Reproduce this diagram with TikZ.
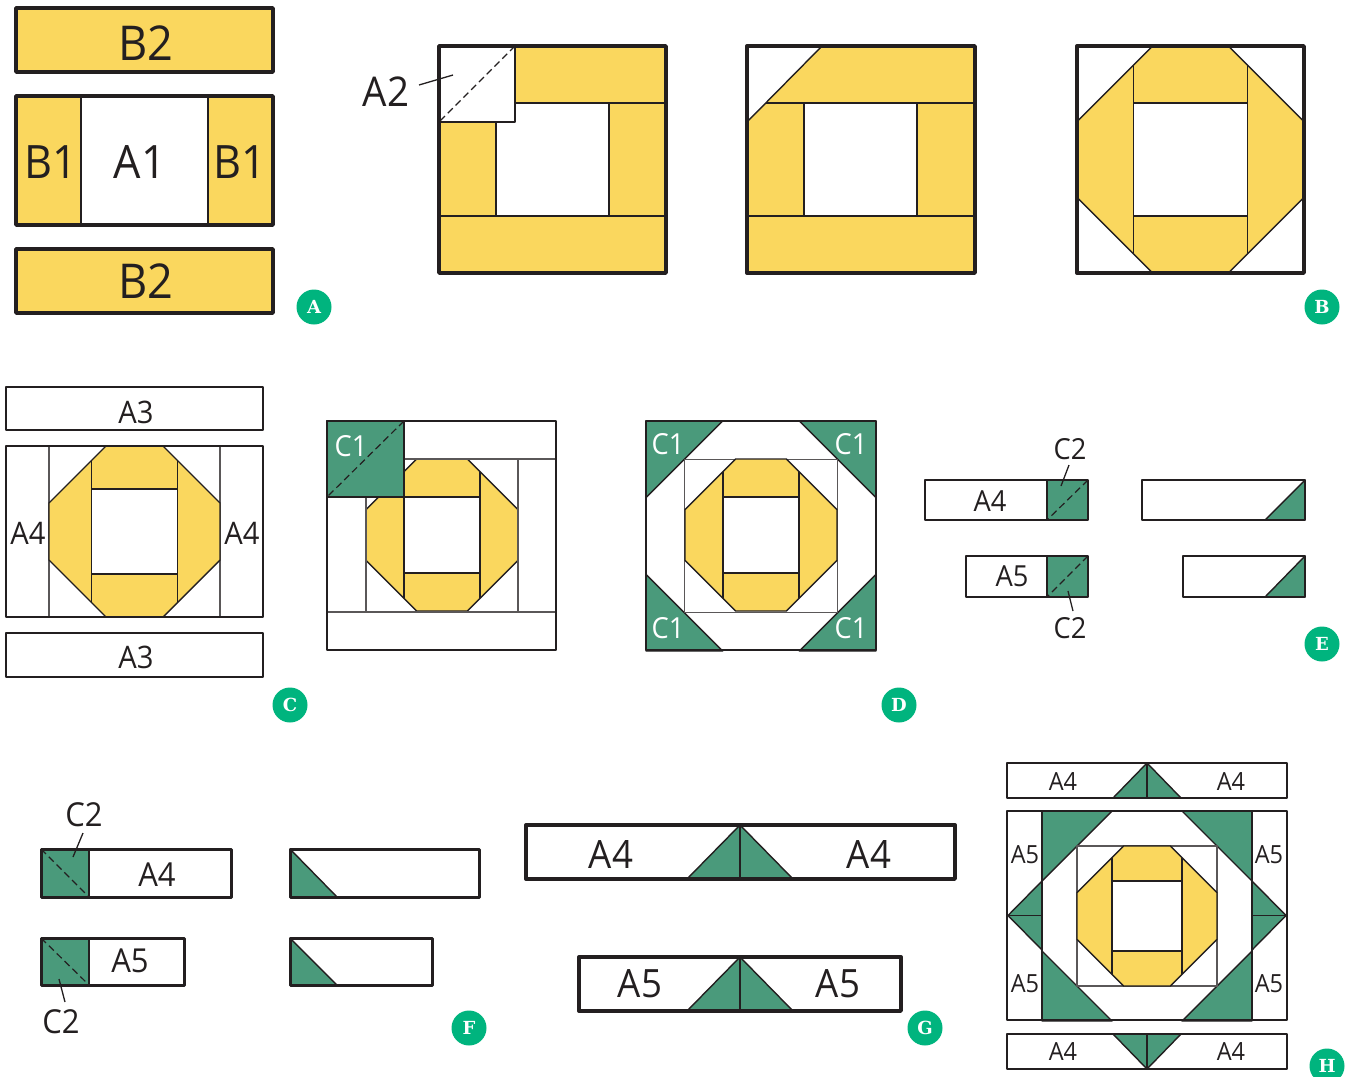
\documentclass[tikz,border=0pt]{standalone}
\usepackage{fontspec}
\setmainfont[FakeStretch=0.94]{Open Sans}
\newfontfamily\badgefont{DejaVu Serif}
\definecolor{straw}{RGB}{250,215,94}
\definecolor{pine}{RGB}{74,154,123}
\definecolor{mint}{RGB}{0,180,126}
\definecolor{ink}{RGB}{35,31,32}
\tikzset{
  lab/.style={font=\fontsize{#1}{#1}\selectfont,text=ink,inner sep=0pt},
  lab/.default=28,
  wlab/.style={font=\fontsize{#1}{#1}\selectfont,text=white,inner sep=0pt},
  badge/.style={circle,fill=mint,text=white,minimum size=35pt,inner sep=0pt,
    font=\badgefont\bfseries\fontsize{18}{18}\selectfont},
  frame/.style={draw=ink,line width=#1,line join=round},
  frame/.default=3.4,
  seam/.style={draw=ink,line width=1.4,line join=round},
  strip/.style={draw=ink!75,line width=1.3},
  fold/.style={draw=ink,line width=1.2,dash pattern=on 7pt off 4pt},
  leader/.style={draw=ink,line width=1.3},
  % block pictograms
  pics/ring/.style={code={
    \begin{scope}[x=#1pt,y=-#1pt]
      \filldraw[seam,fill=straw] (1/3,0) -- (2/3,0) -- (1,1/3) -- (1,2/3) -- (2/3,1) -- (1/3,1) -- (0,2/3) -- (0,1/3) -- cycle;
      \fill[white] (1/4,1/4) rectangle (3/4,3/4);
      \draw[seam] (1/4,1/12) -- (1/4,11/12) (3/4,1/12) -- (3/4,11/12);
      \draw[seam,line width=1.7] (1/4,1/4) -- (3/4,1/4) (1/4,3/4) -- (3/4,3/4);
    \end{scope}
  }},
  pics/wreath/.style={code={
    \begin{scope}[x=#1pt,y=-#1pt]
      \filldraw[seam,fill=pine] (0,0) -- (1/3,0) -- (0,1/3) -- cycle;
      \filldraw[seam,fill=pine] (1,0) -- (2/3,0) -- (1,1/3) -- cycle;
      \filldraw[seam,fill=pine] (0,1) -- (1/3,1) -- (0,2/3) -- cycle;
      \filldraw[seam,fill=pine] (1,1) -- (2/3,1) -- (1,2/3) -- cycle;
      \draw[strip] (1/6,1/6) rectangle (5/6,5/6);
    \end{scope}
  }},
}
\begin{document}
\begin{tikzpicture}[x=1pt,y=-1pt]
  \useasboundingbox (0,0) rectangle (1348,1076);
  % panel A
  \filldraw[frame,fill=straw] (16,8) rectangle (273,72);
  \fill[straw] (16,96) rectangle (273,225);
  \fill[white] (81,96) rectangle (208,225);
  \draw[seam] (81,96) -- (81,225) (208,96) -- (208,225);
  \draw[frame] (16,96) rectangle (273,225);
  \filldraw[frame,fill=straw] (16,249) rectangle (273,313);
  \node[lab=48] (b2top) at (146,43) {B2};
  \node[lab=48] (b2bot) at (146,281) {B2};
  \node[lab=46] (b1left) at (51,162) {B1};
  \node[lab=46] (a1mid) at (140,162) {A1};
  \node[lab=46] (b1right) at (240,162) {B1};
  \node[badge] (tagA) at (314,307) {A};
  % first square, A2 on the corner
  \fill[straw] (439,46) rectangle (666,273);
  \fill[white] (496,103) rectangle (609,216);
  \filldraw[seam,fill=white] (439,46) rectangle (515,122);
  \draw[seam] (515,103) -- (666,103) (496,122) -- (496,216) (609,103) -- (609,216) (439,216) -- (666,216);
  \draw[fold] (515,46) -- (439,122);
  \draw[frame] (439,46) rectangle (666,273);
  \node[lab=41] (a2lab) at (386,92) {A2};
  \coordinate (a2from) at (419,85);
  \coordinate (a2to) at (453,75);
  \draw[leader] (a2from) -- (a2to);
  % second square
  \fill[straw] (747,46) rectangle (975,273);
  \fill[white] (804,103) rectangle (917,216);
  \filldraw[seam,fill=white] (747,46) -- (822,46) -- (747,122) -- cycle;
  \draw[seam] (766,103) -- (975,103) (804,103) -- (804,216) (917,103) -- (917,216) (747,216) -- (975,216);
  \draw[frame] (747,46) rectangle (975,273);
  % third square
  \pic at (1077,46) {ring=227};
  \draw[frame] (1077,46) rectangle (1304,273);
  \node[badge] (tagB) at (1322,307) {B};
  % panel C
  \draw[frame=2.8] (6,387) rectangle (263,430);
  \draw[strip] (49,446) -- (49,617) (220,446) -- (220,617);
  \pic at (49,446) {ring=171};
  \draw[frame=2.8] (6,446) rectangle (263,617);
  \draw[frame=2.8] (6,633) rectangle (263,677);
  \node[lab=31] (a3top) at (136,412) {A3};
  \node[lab=31] (a3bot) at (136,657) {A3};
  \node[lab=31] (a4left) at (28,533) {A4};
  \node[lab=31] (a4right) at (242,533) {A4};
  \node[badge] (tagC) at (290,705) {C};
  \pic at (366,459) {ring=152};
  \draw[strip] (404,459) -- (556,459) (366,497) -- (366,612) (518,459) -- (518,612) (327,612) -- (556,612);
  \filldraw[seam,fill=pine] (327,421) rectangle (404,497);
  \draw[fold] (404,421) -- (327,497);
  \draw[frame=2.8] (327,421) rectangle (556,650);
  \node[wlab=29] (c1a) at (351,446) {C1};
  % panel D
  \pic at (646,421) {wreath=230};
  \pic at (685,459) {ring=152};
  \draw[frame=2.8] (646,421) rectangle (876,650);
  \foreach \cx/\cy/\cname in {668/444/tl,851/444/tr,668/628/bl,851/628/br}
    \node[wlab=29] (c1\cname) at (\cx,\cy) {C1};
  \node[badge] (tagD) at (899,705) {D};
  % panel E
  \foreach \xa/\ya/\yb in {925/480/520,966/556/597}{
    \fill[pine] (1047,\ya) rectangle (1088,\yb);
    \draw[seam] (1047,\ya) -- (1047,\yb);
    \draw[fold] (1088,\ya) -- (1047,\yb);
    \draw[frame=2.8] (\xa,\ya) rectangle (1088,\yb);
  }
  \foreach \xa/\ya/\yb in {1142/480/520,1183/556/597}{
    \filldraw[seam,fill=pine] (1305,\ya) -- (1305,\yb) -- (1265,\yb) -- cycle;
    \draw[frame=2.8] (\xa,\ya) rectangle (1305,\yb);
  }
  \node[lab=29] (a4e) at (990,501) {A4};
  \node[lab=29] (a5e) at (1012,576) {A5};
  \node[lab=29] (c2up) at (1070,449) {C2};
  \node[lab=29] (c2dn) at (1070,628) {C2};
  \coordinate (c2upa) at (1069,465);
  \coordinate (c2upb) at (1061,486);
  \coordinate (c2dna) at (1068,591);
  \coordinate (c2dnb) at (1073,611);
  \draw[leader] (c2upa) -- (c2upb);
  \draw[leader] (c2dna) -- (c2dnb);
  \node[badge] (tagE) at (1322,644) {E};
  % panel F
  \foreach \xb/\ya/\yb in {231/849/897,184/938/985}{
    \fill[pine] (41,\ya) rectangle (89,\yb);
    \draw[seam] (89,\ya) -- (89,\yb);
    \draw[fold] (41,\ya) -- (89,\yb);
    \draw[frame=3] (41,\ya) rectangle (\xb,\yb);
  }
  \foreach \xb/\ya/\yb in {479/849/897,432/938/985}{
    \filldraw[seam,fill=pine] (290,\ya) -- (337,\yb) -- (290,\yb) -- cycle;
    \draw[frame=3] (290,\ya) rectangle (\xb,\yb);
  }
  \node[lab=33] (a4f) at (157,875) {A4};
  \node[lab=33] (a5f) at (130,961) {A5};
  \node[lab=33] (c2fup) at (84,815) {C2};
  \node[lab=33] (c2fdn) at (61,1022) {C2};
  \coordinate (c2fupa) at (83,833);
  \coordinate (c2fupb) at (73,857);
  \coordinate (c2fdna) at (59,979);
  \coordinate (c2fdnb) at (65,1002);
  \draw[leader] (c2fupa) -- (c2fupb);
  \draw[leader] (c2fdna) -- (c2fdnb);
  \node[badge] (tagF) at (469,1028) {F};
  % panel G
  \foreach \xa/\xb/\ya/\yb in {526/955/825/879,579/901/957/1011}{
    \filldraw[seam,fill=pine] (687,\yb) -- (740,\ya) -- (793,\yb) -- cycle;
    \draw[seam] (740,\ya) -- (740,\yb);
    \draw[frame] (\xa,\ya) rectangle (\xb,\yb);
  }
  \node[lab=39] (a4gl) at (611,854) {A4};
  \node[lab=39] (a4gr) at (869,854) {A4};
  \node[lab=39] (a5gl) at (640,984) {A5};
  \node[lab=39] (a5gr) at (838,984) {A5};
  \node[badge] (tagG) at (925,1028) {G};
  % panel H
  \foreach \yp/\yq in {798/763,1034/1069}{
    \filldraw[seam,fill=pine] (1113,\yp) -- (1147,\yq) -- (1181,\yp) -- cycle;
    \draw[seam] (1147,\yp) -- (1147,\yq);
  }
  \draw[frame=2.4] (1007,763) rectangle (1287,798);
  \draw[frame=2.4] (1007,1034) rectangle (1287,1069);
  \pic at (1042,811) {wreath=210};
  \pic at (1077,846) {ring=140};
  \foreach \xp/\xq in {1042/1008,1252/1286}{
    \filldraw[seam,fill=pine] (\xp,881) -- (\xq,915.5) -- (\xp,950) -- cycle;
    \draw[seam] (\xp,915.5) -- (\xq,915.5);
  }
  \draw[seam] (1042,811) -- (1042,1020) (1252,811) -- (1252,1020);
  \draw[frame=2.4] (1007,811) rectangle (1287,1020);
  \foreach \lx/\ly/\lname in {1063/782/a,1231/782/b,1063/1052/c,1231/1052/d}
    \node[lab=25] (a4h\lname) at (\lx,\ly) {A4};
  \foreach \lx/\ly/\lname in {1025/855/a,1269/855/b,1025/984/c,1269/984/d}
    \node[lab=25] (a5h\lname) at (\lx,\ly) {A5};
  \node[badge] (tagH) at (1327,1066) {H};
\end{tikzpicture}
\end{document}
